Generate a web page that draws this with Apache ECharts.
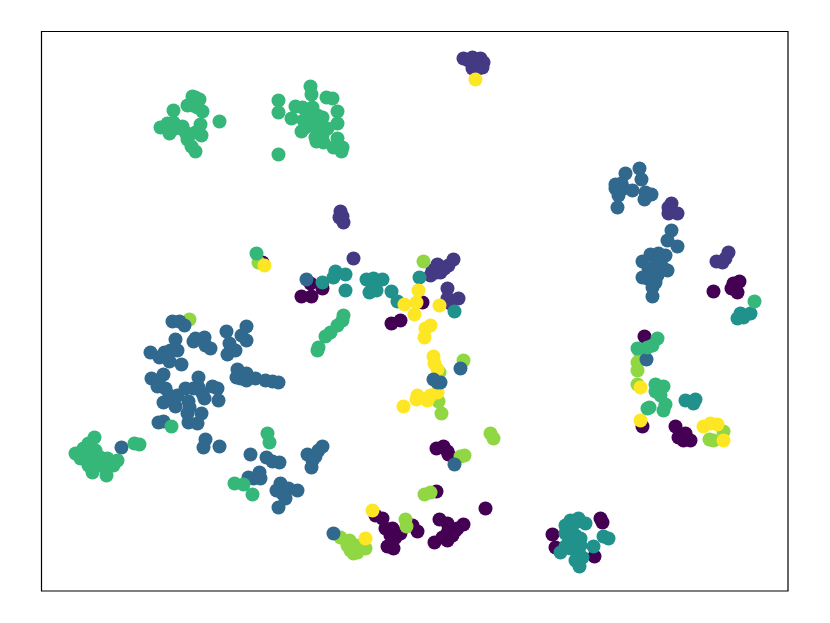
<!DOCTYPE html>
<html><head><meta charset="utf-8">
<style>html,body{margin:0;padding:0;background:#fff}#c{width:830px;height:623px}</style>
<script src="https://cdn.jsdelivr.net/npm/echarts@6/dist/echarts.min.js"></script>
</head><body><div id="c"></div>
<script>
const class0=[[262,262],[310,283],[322,288],[301,296],[311,296],[422,302],[391,323],[400,320],[436,448],[443,446],[447,451],[448,454],[436,491],[485,508],[375,515],[382,518],[385,528],[392,528],[400,533],[395,537],[390,535],[392,542],[387,546],[393,548],[412,525],[417,531],[439,519],[447,523],[463,524],[457,528],[448,530],[452,535],[447,533],[455,530],[442,537],[447,540],[434,542],[600,518],[602,522],[552,534],[555,547],[594,556],[644,336],[642,426],[675,426],[685,433],[678,437],[690,440],[683,440],[713,291],[739,281],[733,283],[731,288],[737,292]];
const class1=[[353,258],[437,264],[453,259],[448,265],[430,275],[440,272],[432,270],[436,272],[444,268],[447,288],[447,298],[458,298],[450,303],[671,203],[668,207],[668,213],[677,213],[728,252],[725,258],[716,261],[722,262],[463,58],[472,57],[480,58],[483,62],[472,63],[468,60],[476,60],[476,64],[482,67],[472,68],[478,68],[340,211],[342,216],[339,217],[343,222]];
const class5=[[189,319],[258,262],[423,261],[463,360],[439,372],[438,401],[441,413],[490,433],[493,438],[460,456],[464,455],[424,494],[430,492],[340,537],[349,540],[355,545],[365,548],[353,553],[357,552],[350,550],[360,545],[347,545],[405,519],[406,526],[640,354],[637,362],[637,370],[637,384],[723,431],[709,439],[713,440]];
const class3=[[322,282],[335,271],[333,277],[345,274],[345,290],[366,279],[373,278],[382,279],[369,292],[376,290],[372,285],[391,291],[397,301],[419,277],[454,311],[578,518],[570,520],[565,525],[585,523],[575,522],[566,529],[565,533],[573,537],[575,535],[568,542],[560,552],[565,546],[570,548],[580,545],[578,552],[582,557],[575,560],[579,566],[593,546],[603,536],[608,538],[580,538],[685,400],[695,399],[693,403],[740,313],[737,318],[750,313],[743,317]];
const class6=[[264,265],[418,290],[404,304],[416,302],[414,314],[439,305],[430,325],[425,328],[424,337],[433,356],[434,363],[437,369],[403,406],[417,395],[416,399],[427,400],[430,395],[437,392],[372,510],[365,538],[640,387],[640,420],[703,426],[710,423],[717,424],[723,440],[475,79]];
const class2=[[172,321],[179,321],[184,325],[175,339],[177,350],[170,350],[164,352],[150,352],[159,357],[169,361],[181,364],[193,341],[195,338],[204,337],[205,345],[210,348],[226,331],[246,326],[241,335],[246,340],[229,343],[230,350],[235,350],[227,354],[237,369],[246,373],[236,377],[246,380],[240,378],[255,378],[265,380],[272,381],[278,382],[151,378],[163,374],[158,380],[157,386],[165,388],[169,395],[163,402],[175,406],[177,395],[185,388],[198,377],[198,387],[193,388],[212,386],[217,388],[204,398],[218,400],[202,393],[188,401],[189,407],[187,413],[201,413],[188,422],[197,423],[158,422],[163,421],[121,447],[205,439],[203,447],[219,446],[250,454],[266,457],[272,461],[279,462],[259,472],[248,477],[253,478],[260,478],[280,483],[276,490],[288,488],[297,490],[285,498],[278,507],[282,493],[322,446],[318,450],[307,454],[315,456],[312,460],[311,467],[306,279],[460,368],[433,379],[440,382],[437,382],[454,464],[333,533],[646,359],[639,168],[625,173],[641,179],[615,184],[615,188],[621,183],[623,188],[632,190],[618,195],[617,207],[645,192],[651,194],[644,199],[671,230],[667,240],[677,246],[650,254],[658,253],[665,255],[642,261],[660,262],[657,258],[655,265],[648,268],[663,268],[667,270],[650,273],[642,277],[647,278],[657,275],[652,287],[652,296],[653,280],[655,282]];
const class4=[[192,96],[195,97],[199,99],[187,105],[192,105],[197,107],[202,111],[173,110],[160,127],[167,123],[173,122],[169,133],[175,128],[182,126],[185,132],[187,139],[191,146],[195,151],[200,124],[195,132],[201,135],[219,121],[278,100],[278,112],[278,154],[310,86],[311,94],[326,97],[332,98],[337,111],[295,106],[302,107],[291,118],[312,107],[308,112],[317,115],[322,117],[303,120],[310,120],[320,125],[301,131],[312,125],[327,128],[337,123],[315,137],[316,141],[322,135],[323,142],[337,138],[333,147],[342,147],[341,151],[305,127],[317,130],[171,426],[94,437],[88,443],[83,448],[75,453],[80,458],[85,453],[95,450],[92,458],[100,457],[107,458],[117,460],[88,465],[97,465],[105,467],[113,465],[92,472],[106,475],[134,443],[139,444],[267,433],[269,442],[234,483],[243,484],[252,494],[256,253],[343,315],[342,320],[337,325],[330,332],[325,336],[318,347],[317,350],[657,338],[652,345],[647,347],[637,348],[655,384],[663,386],[655,391],[660,395],[665,404],[663,410],[649,407],[647,408],[754,301]];
const layers=[[class0,'#440154'],[class1,'#443983'],[class5,'#90d743'],[class3,'#21918c'],[class6,'#fde725'],[class2,'#31688e'],[class4,'#35b779']];
const chart=echarts.init(document.getElementById('c'),null,{renderer:'canvas'});
chart.setOption({
  animation:false,
  backgroundColor:'#fff',
  grid:{left:41.5,top:31.5,width:746.5,height:559.5,show:true,borderColor:'#000',borderWidth:1.2,backgroundColor:'#fff'},
  xAxis:{type:'value',min:41,max:787.5,show:false},
  yAxis:{type:'value',min:31,max:590.5,inverse:true,show:false},
  series:layers.map(([data,color])=>({type:'scatter',data,symbolSize:14,silent:true,itemStyle:{color,opacity:1}}))
});
</script></body></html>
